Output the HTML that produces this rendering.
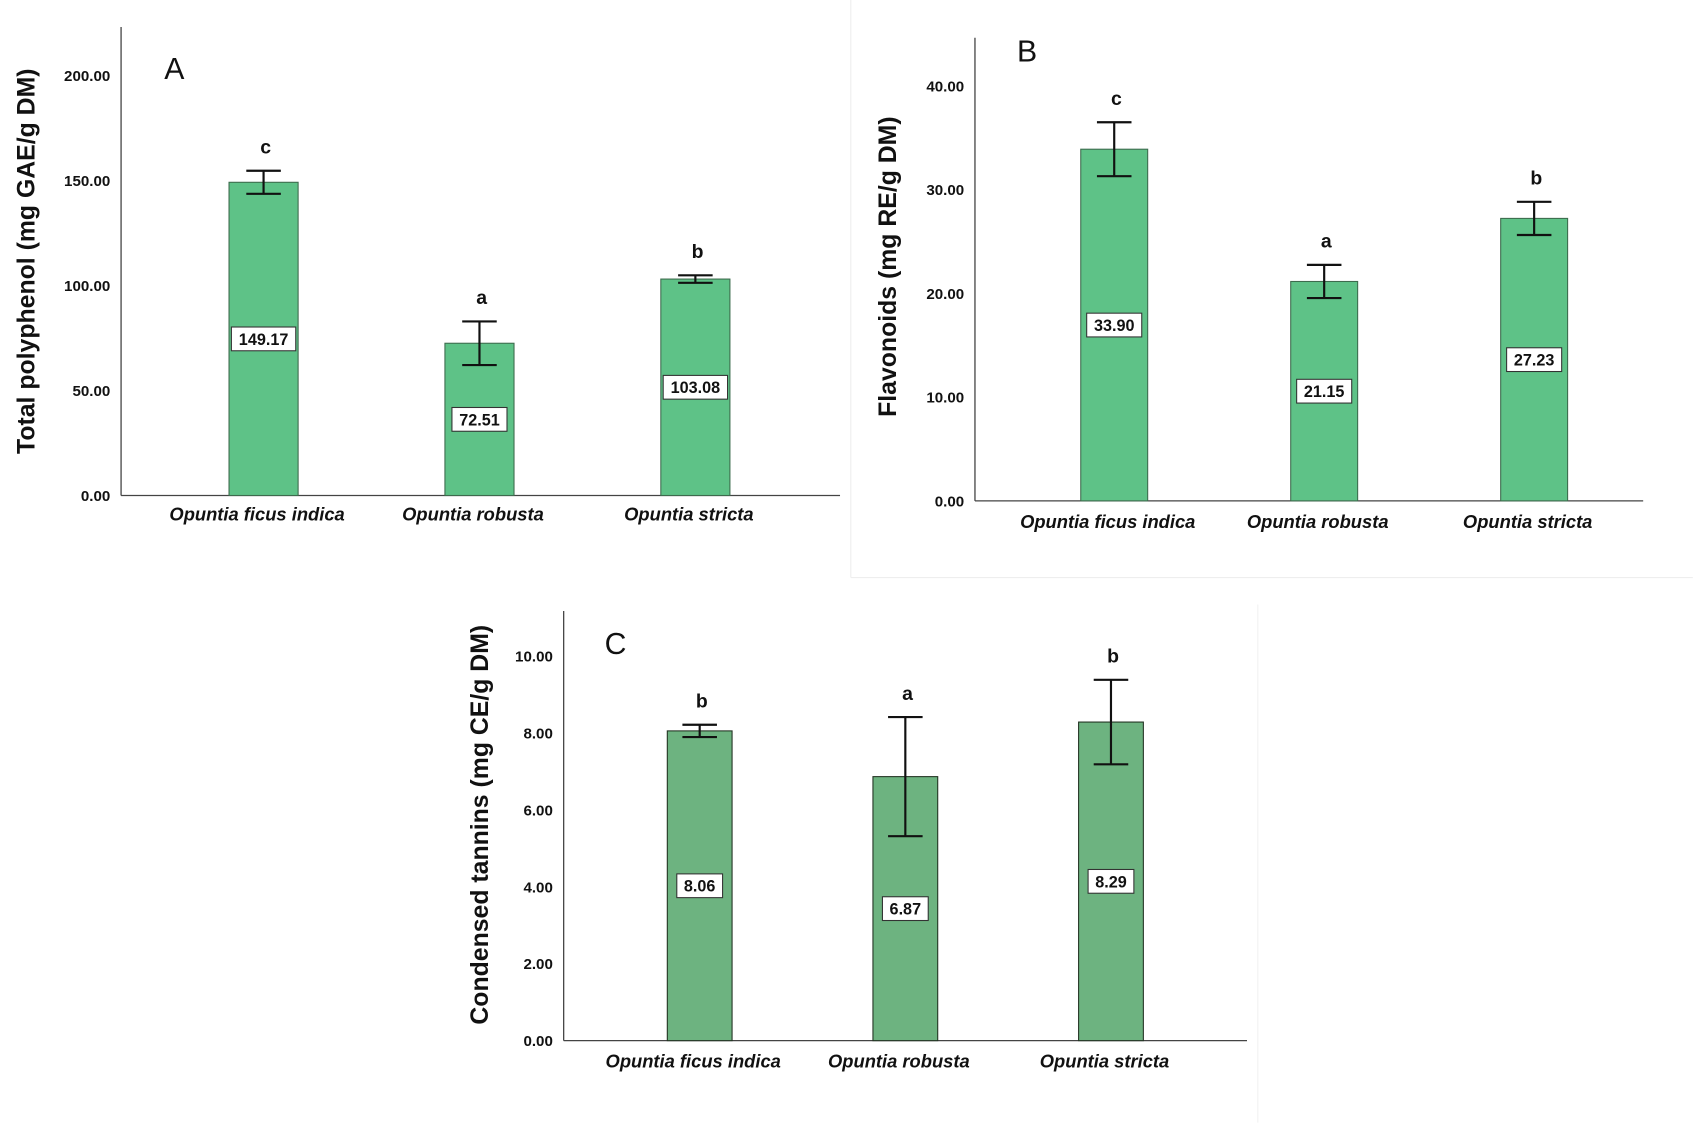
<!DOCTYPE html>
<html><head><meta charset="utf-8"><style>
html,body{margin:0;padding:0;background:#fff;}
svg{display:block;}
.tick{font:bold 14px "Liberation Sans",sans-serif;fill:#111;}
.cat{font:italic bold 17px "Liberation Sans",sans-serif;fill:#111;}
.ttl{font:bold 23px "Liberation Sans",sans-serif;fill:#111;}
.let{font:bold 18px "Liberation Sans",sans-serif;fill:#111;}
.val{font:bold 15px "Liberation Sans",sans-serif;fill:#111;}
.pl{font:28px "Liberation Sans",sans-serif;fill:#111;}
</style></head><body>
<svg id="fig" width="1693" height="1127" viewBox="0 0 1568 1044" xmlns="http://www.w3.org/2000/svg">
<line x1="788" y1="0" x2="788" y2="535" stroke="#eee"/>
<line x1="788" y1="535" x2="1568" y2="535" stroke="#eee"/>
<line x1="1165" y1="560" x2="1165" y2="1040" stroke="#f2f2f2"/>
</svg>
<script>
const categories = ["Opuntia ficus indica","Opuntia robusta","Opuntia stricta"];
const valuesA = [149.17, 72.51, 103.08];
const errorsA = [5.5, 10.4, 1.8];
const lettersA = ["c","a","b"];
const ticksA = [0,50,100,150,200];
const valuesB = [33.90, 21.15, 27.23];
const errorsB = [2.6, 1.6, 1.6];
const lettersB = ["c","a","b"];
const ticksB = [0,10,20,30,40];
const valuesC = [8.06, 6.87, 8.29];
const errorsC = [0.16, 1.55, 1.1];
const lettersC = ["b","a","b"];
const ticksC = [0,2,4,6,8,10];

const NS = "http://www.w3.org/2000/svg";
const svg = document.getElementById("fig");
function mk(tag, attrs, parent, text){
  const e = document.createElementNS(NS, tag);
  for (const k in attrs) e.setAttribute(k, attrs[k]);
  if (text !== undefined) e.textContent = text;
  (parent || svg).appendChild(e);
  return e;
}
function panel(p){
  const g = mk("g", {});
  
  
  const y = v => p.base - (v - 0) * p.pxPerUnit;
  const x = i => p.centers0 + i * p.step;
  const ya = mk("line", {x1:p.ax, y1:p.top, x2:p.ax, y2:p.base, stroke:"#444", "stroke-width":1.2}, g);
  
  
  const xa = mk("line", {x1:p.ax, y1:p.base, x2:p.right, y2:p.base, stroke:"#444", "stroke-width":1.2}, g);
  
  
  p.ticks.forEach(t => {
    const tl = mk("text", {x:p.ax-10, y:y(t)+5, "text-anchor":"end", class:"tick"}, g, t.toFixed(2));
    
    
  });
  const tt = mk("text", {x:0, y:0, "text-anchor":"middle", class:"ttl", transform:`translate(${p.titleX},${p.titleY}) rotate(-90)`}, g, p.title);
  
  
  const pl = mk("text", {x:p.lx, y:p.ly, class:"pl"}, g, p.id.toUpperCase());
  
  
  p.values.forEach((v, i) => {
    const cx = x(i), w = p.bw;
    const b = mk("rect", {x:cx-w/2, y:y(v), width:w, height:p.base-y(v), fill:p.color, stroke:p.stroke, "stroke-width":1}, g);
    
    
    const e = p.errors[i], hi = y(v+e), lo = y(v-e);
    const eb = mk("path", {d:`M${cx},${hi}V${lo}M${cx-16},${hi}H${cx+16}M${cx-16},${lo}H${cx+16}`, stroke:"#111", "stroke-width":2, fill:"none"}, g);
    
    
    const lt = mk("text", {x:cx+2, y:hi-16, "text-anchor":"middle", class:"let"}, g, p.letters[i]);
    
    
    const my = y(v/2);
    const s = v.toFixed(2);
    const bw = s.length*8.6+8;
    const bx = mk("rect", {x:cx-bw/2, y:my-11, width:bw, height:22, fill:"#fff", stroke:"#333", "stroke-width":1}, g);
    
    
    const vt = mk("text", {x:cx, y:my+5.5, "text-anchor":"middle", class:"val"}, g, s);
    
    
    const cl = mk("text", {x:cx-6, y:p.catY, "text-anchor":"middle", class:"cat"}, g, categories[i]);
    
    
  });
}
panel({id:"a", values:valuesA, errors:errorsA, letters:lettersA, ticks:ticksA,
  ax:112, top:25, base:459, right:778, pxPerUnit:194.5/100, centers0:244, step:200, bw:64,
  color:"#5ec287", stroke:"#3d6b4d", title:"Total polyphenol (mg GAE/g DM)", titleX:32, titleY:242,
  lx:152, ly:73, catY:482});
panel({id:"b", values:valuesB, errors:errorsB, letters:lettersB, ticks:ticksB,
  ax:903, top:35, base:464, right:1522, pxPerUnit:96.1/10, centers0:1032, step:194.5, bw:62,
  color:"#5ec287", stroke:"#3d6b4d", title:"Flavonoids (mg RE/g DM)", titleX:830, titleY:247,
  lx:942, ly:57, catY:489});
panel({id:"c", values:valuesC, errors:errorsC, letters:lettersC, ticks:ticksC,
  ax:522, top:566, base:964, right:1155, pxPerUnit:35.6, centers0:648, step:190.5, bw:60,
  color:"#6db380", stroke:"#223322", title:"Condensed tannins (mg CE/g DM)", titleX:452, titleY:764,
  lx:560, ly:606, catY:989});
</script>
</body></html>
